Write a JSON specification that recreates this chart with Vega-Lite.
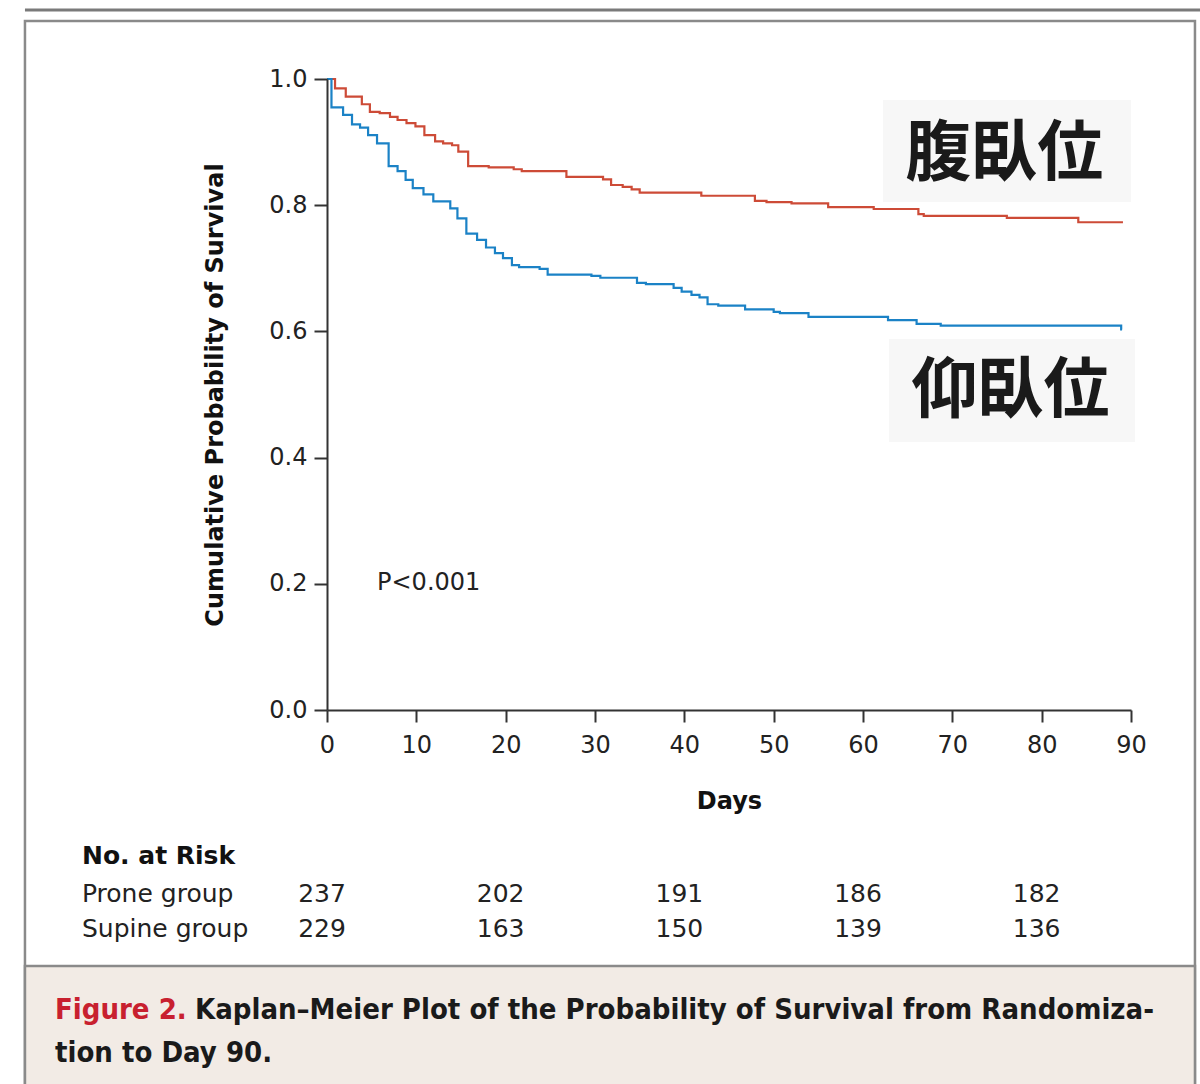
{
  "$schema": "https://vega.github.io/schema/vega-lite/v6.json",
  "width": 804,
  "height": 631,
  "autosize": {"type": "none"},
  "padding": {"left": 327, "top": 79, "right": 69, "bottom": 374},
  "background": "white",
  "config": {
    "view": {"stroke": null},
    "font": "DejaVu Sans",
    "axis": {"zindex": 1, "labelFlush": false, "labelOverlap": false, "domainColor": "#333", "domainWidth": 2, "tickColor": "#333", "tickWidth": 2, "labelFont": "DejaVu Sans", "labelFontSize": 24, "labelColor": "#222", "titleFont": "DejaVu Sans", "titleFontSize": 24, "titleFontWeight": "bold", "titleColor": "#111", "grid": false},
    "axisX": {"tickSize": 12, "labelPadding": 11, "titlePadding": 32},
    "axisY": {"tickSize": 13, "labelPadding": 7, "titlePadding": 41}
  },
  "datasets": {
    "km": [
      {"group": "Prone group", "day": 0, "surv": 1.0},
      {"group": "Prone group", "day": 0.9, "surv": 0.985},
      {"group": "Prone group", "day": 2.1, "surv": 0.972},
      {"group": "Prone group", "day": 3.9, "surv": 0.96},
      {"group": "Prone group", "day": 4.8, "surv": 0.948},
      {"group": "Prone group", "day": 5.9, "surv": 0.946},
      {"group": "Prone group", "day": 7.05, "surv": 0.94},
      {"group": "Prone group", "day": 7.9, "surv": 0.935},
      {"group": "Prone group", "day": 8.9, "surv": 0.93},
      {"group": "Prone group", "day": 9.9, "surv": 0.925},
      {"group": "Prone group", "day": 10.9, "surv": 0.911},
      {"group": "Prone group", "day": 12.1, "surv": 0.901},
      {"group": "Prone group", "day": 13.0, "surv": 0.898},
      {"group": "Prone group", "day": 14.0, "surv": 0.895},
      {"group": "Prone group", "day": 14.7, "surv": 0.885},
      {"group": "Prone group", "day": 15.8, "surv": 0.862},
      {"group": "Prone group", "day": 18.1, "surv": 0.86},
      {"group": "Prone group", "day": 20.9, "surv": 0.857},
      {"group": "Prone group", "day": 21.8, "surv": 0.854},
      {"group": "Prone group", "day": 26.8, "surv": 0.845},
      {"group": "Prone group", "day": 30.9, "surv": 0.841},
      {"group": "Prone group", "day": 31.8, "surv": 0.832},
      {"group": "Prone group", "day": 33.1, "surv": 0.829},
      {"group": "Prone group", "day": 34.1, "surv": 0.825},
      {"group": "Prone group", "day": 35.0, "surv": 0.82},
      {"group": "Prone group", "day": 41.9, "surv": 0.815},
      {"group": "Prone group", "day": 47.9, "surv": 0.807},
      {"group": "Prone group", "day": 49.2, "surv": 0.805},
      {"group": "Prone group", "day": 52.0, "surv": 0.803},
      {"group": "Prone group", "day": 56.1, "surv": 0.797},
      {"group": "Prone group", "day": 61.2, "surv": 0.794},
      {"group": "Prone group", "day": 66.2, "surv": 0.786},
      {"group": "Prone group", "day": 66.8, "surv": 0.783},
      {"group": "Prone group", "day": 76.1, "surv": 0.78},
      {"group": "Prone group", "day": 84.1, "surv": 0.773},
      {"group": "Prone group", "day": 89.1, "surv": 0.773},
      {"group": "Supine group", "day": 0, "surv": 1.0},
      {"group": "Supine group", "day": 0.5, "surv": 0.955},
      {"group": "Supine group", "day": 1.8, "surv": 0.943},
      {"group": "Supine group", "day": 2.8, "surv": 0.928},
      {"group": "Supine group", "day": 3.7, "surv": 0.923},
      {"group": "Supine group", "day": 4.6, "surv": 0.911},
      {"group": "Supine group", "day": 5.6, "surv": 0.898},
      {"group": "Supine group", "day": 6.9, "surv": 0.862},
      {"group": "Supine group", "day": 7.9, "surv": 0.854},
      {"group": "Supine group", "day": 8.8, "surv": 0.84},
      {"group": "Supine group", "day": 9.6, "surv": 0.827},
      {"group": "Supine group", "day": 10.8, "surv": 0.817},
      {"group": "Supine group", "day": 11.9, "surv": 0.806},
      {"group": "Supine group", "day": 13.8, "surv": 0.795},
      {"group": "Supine group", "day": 14.6, "surv": 0.779},
      {"group": "Supine group", "day": 15.6, "surv": 0.755},
      {"group": "Supine group", "day": 16.8, "surv": 0.745},
      {"group": "Supine group", "day": 17.8, "surv": 0.733},
      {"group": "Supine group", "day": 18.8, "surv": 0.724},
      {"group": "Supine group", "day": 19.7, "surv": 0.716},
      {"group": "Supine group", "day": 20.7, "surv": 0.705},
      {"group": "Supine group", "day": 21.5, "surv": 0.702},
      {"group": "Supine group", "day": 23.8, "surv": 0.699},
      {"group": "Supine group", "day": 24.7, "surv": 0.69},
      {"group": "Supine group", "day": 29.6, "surv": 0.688},
      {"group": "Supine group", "day": 30.6, "surv": 0.685},
      {"group": "Supine group", "day": 34.7, "surv": 0.677},
      {"group": "Supine group", "day": 35.7, "surv": 0.675},
      {"group": "Supine group", "day": 38.8, "surv": 0.669},
      {"group": "Supine group", "day": 39.7, "surv": 0.663},
      {"group": "Supine group", "day": 40.8, "surv": 0.658},
      {"group": "Supine group", "day": 41.7, "surv": 0.654},
      {"group": "Supine group", "day": 42.6, "surv": 0.643},
      {"group": "Supine group", "day": 43.8, "surv": 0.641},
      {"group": "Supine group", "day": 46.8, "surv": 0.635},
      {"group": "Supine group", "day": 50.0, "surv": 0.631},
      {"group": "Supine group", "day": 50.7, "surv": 0.629},
      {"group": "Supine group", "day": 53.9, "surv": 0.623},
      {"group": "Supine group", "day": 62.8, "surv": 0.618},
      {"group": "Supine group", "day": 66.0, "surv": 0.612},
      {"group": "Supine group", "day": 68.7, "surv": 0.609},
      {"group": "Supine group", "day": 88.9, "surv": 0.603},
      {"group": "Supine group", "day": 89.0, "surv": 0.603}
    ],
    "risk": [
      {"group": "Prone group", "day": 0, "n": 237},
      {"group": "Prone group", "day": 20, "n": 202},
      {"group": "Prone group", "day": 40, "n": 191},
      {"group": "Prone group", "day": 60, "n": 186},
      {"group": "Prone group", "day": 80, "n": 182},
      {"group": "Supine group", "day": 0, "n": 229},
      {"group": "Supine group", "day": 20, "n": 163},
      {"group": "Supine group", "day": 40, "n": 150},
      {"group": "Supine group", "day": 60, "n": 139},
      {"group": "Supine group", "day": 80, "n": 136}
    ]
  },
  "layer": [
    {
      "data": {"name": "km"},
      "mark": {"type": "line", "interpolate": "step-after", "strokeWidth": 2.2},
      "encoding": {
        "x": {"field": "day", "type": "quantitative", "title": "Days", "scale": {"domain": [0, 90], "nice": false}, "axis": {"values": [0, 10, 20, 30, 40, 50, 60, 70, 80, 90], "zindex": 2, "labelFlush": false}},
        "y": {"field": "surv", "type": "quantitative", "title": "Cumulative Probability of Survival", "scale": {"domain": [0, 1], "nice": false}, "axis": {"values": [0, 0.2, 0.4, 0.6, 0.8, 1.0], "format": ".1f", "zindex": 2, "labelFlush": false}},
        "color": {"field": "group", "type": "nominal", "scale": {"domain": ["Prone group", "Supine group"], "range": ["#cd4b37", "#1b82c6"]}, "legend": null}
      }
    },
    {
      "data": {"values": [{}]},
      "mark": {"type": "rect", "fill": null, "stroke": "#8a8a8a", "strokeWidth": 2.5},
      "encoding": {
        "x": {"datum": -33.81, "type": "quantitative", "title": "Days"},
        "x2": {"datum": 97.16},
        "y": {"datum": 1.0919, "type": "quantitative", "title": "Cumulative Probability of Survival"},
        "y2": {"datum": -0.63}
      }
    },
    {
      "data": {"values": [{}]},
      "mark": {"type": "rect", "fill": "#f2ebe5", "stroke": "#8a8a8a", "strokeWidth": 2.5},
      "encoding": {
        "x": {"datum": -33.81, "type": "quantitative", "title": "Days"},
        "x2": {"datum": 97.16},
        "y": {"datum": -0.4057, "type": "quantitative", "title": "Cumulative Probability of Survival"},
        "y2": {"datum": -0.63}
      }
    },
    {
      "data": {"values": [{}]},
      "mark": {"type": "rule", "stroke": "#7a7a7a", "strokeWidth": 3},
      "encoding": {
        "x": {"datum": -33.81, "type": "quantitative", "title": "Days"},
        "x2": {"datum": 99},
        "y": {"datum": 1.1094, "type": "quantitative", "title": "Cumulative Probability of Survival"}
      }
    },
    {
      "data": {"values": [{}]},
      "mark": {"type": "rect", "fill": "#f7f7f7"},
      "encoding": {
        "x": {"datum": 62.24, "type": "quantitative", "title": "Days"},
        "x2": {"datum": 90.0},
        "y": {"datum": 0.9667, "type": "quantitative", "title": "Cumulative Probability of Survival"},
        "y2": {"datum": 0.8051}
      }
    },
    {
      "data": {"values": [{}]},
      "mark": {"type": "rect", "fill": "#f7f7f7"},
      "encoding": {
        "x": {"datum": 62.91, "type": "quantitative", "title": "Days"},
        "x2": {"datum": 90.45},
        "y": {"datum": 0.588, "type": "quantitative", "title": "Cumulative Probability of Survival"},
        "y2": {"datum": 0.4247}
      }
    },
    {
      "data": {"values": [{}]},
      "mark": {"type": "text", "text": "腹臥位", "font": "Noto Sans CJK JP", "fontSize": 66, "fontWeight": "bold", "fill": "#1a1a1a", "align": "center", "baseline": "middle"},
      "encoding": {
        "x": {"datum": 75.8, "type": "quantitative", "title": "Days"},
        "y": {"datum": 0.8796, "type": "quantitative", "title": "Cumulative Probability of Survival"}
      }
    },
    {
      "data": {"values": [{}]},
      "mark": {"type": "text", "text": "仰臥位", "font": "Noto Sans CJK JP", "fontSize": 66, "fontWeight": "bold", "fill": "#1a1a1a", "align": "center", "baseline": "middle"},
      "encoding": {
        "x": {"datum": 76.5, "type": "quantitative", "title": "Days"},
        "y": {"datum": 0.504, "type": "quantitative", "title": "Cumulative Probability of Survival"}
      }
    },
    {
      "data": {"values": [{}]},
      "mark": {"type": "text", "text": "P<0.001", "font": "DejaVu Sans", "fontSize": 24, "fill": "#222", "align": "left", "baseline": "middle"},
      "encoding": {
        "x": {"datum": 5.6, "type": "quantitative", "title": "Days"},
        "y": {"datum": 0.2013, "type": "quantitative", "title": "Cumulative Probability of Survival"}
      }
    },
    {
      "data": {"values": [{}]},
      "mark": {"type": "text", "text": "No. at Risk", "font": "DejaVu Sans", "fontSize": 25, "fontWeight": "bold", "fill": "#111", "align": "left", "baseline": "middle"},
      "encoding": {
        "x": {"datum": -27.43, "type": "quantitative", "title": "Days"},
        "y": {"datum": -0.2314, "type": "quantitative", "title": "Cumulative Probability of Survival"}
      }
    },
    {
      "data": {"values": [{}]},
      "mark": {"type": "text", "text": "Prone group", "font": "DejaVu Sans", "fontSize": 25, "fill": "#222", "align": "left", "baseline": "middle"},
      "encoding": {
        "x": {"datum": -27.43, "type": "quantitative", "title": "Days"},
        "y": {"datum": -0.2916, "type": "quantitative", "title": "Cumulative Probability of Survival"}
      }
    },
    {
      "data": {"values": [{}]},
      "mark": {"type": "text", "text": "Supine group", "font": "DejaVu Sans", "fontSize": 25, "fill": "#222", "align": "left", "baseline": "middle"},
      "encoding": {
        "x": {"datum": -27.43, "type": "quantitative", "title": "Days"},
        "y": {"datum": -0.3471, "type": "quantitative", "title": "Cumulative Probability of Survival"}
      }
    },
    {
      "data": {"name": "risk"},
      "transform": [{"filter": "datum.group === 'Prone group'"}],
      "mark": {"type": "text", "font": "DejaVu Sans", "fontSize": 25, "fill": "#222", "align": "center", "baseline": "middle", "dx": -5},
      "encoding": {
        "x": {"field": "day", "type": "quantitative", "title": "Days"},
        "y": {"datum": -0.2916, "type": "quantitative", "title": "Cumulative Probability of Survival"},
        "text": {"field": "n", "type": "nominal"}
      }
    },
    {
      "data": {"name": "risk"},
      "transform": [{"filter": "datum.group === 'Supine group'"}],
      "mark": {"type": "text", "font": "DejaVu Sans", "fontSize": 25, "fill": "#222", "align": "center", "baseline": "middle", "dx": -5},
      "encoding": {
        "x": {"field": "day", "type": "quantitative", "title": "Days"},
        "y": {"datum": -0.3471, "type": "quantitative", "title": "Cumulative Probability of Survival"},
        "text": {"field": "n", "type": "nominal"}
      }
    },
    {
      "data": {"values": [{}]},
      "mark": {"type": "text", "text": "Figure 2.", "font": "Liberation Sans Narrow, DejaVu Sans Condensed, Roboto Condensed, Liberation Sans", "fontSize": 29, "fontWeight": "bold", "fill": "#c8202f", "align": "left", "baseline": "middle"},
      "encoding": {
        "x": {"datum": -30.45, "type": "quantitative", "title": "Days"},
        "y": {"datum": -0.4754, "type": "quantitative", "title": "Cumulative Probability of Survival"}
      }
    },
    {
      "data": {"values": [{}]},
      "mark": {"type": "text", "text": "Kaplan–Meier Plot of the Probability of Survival from Randomiza-", "font": "Liberation Sans Narrow, DejaVu Sans Condensed, Roboto Condensed, Liberation Sans", "fontSize": 29, "fontWeight": "bold", "fill": "#1a1a1a", "align": "left", "baseline": "middle"},
      "encoding": {
        "x": {"datum": -14.78, "type": "quantitative", "title": "Days"},
        "y": {"datum": -0.4754, "type": "quantitative", "title": "Cumulative Probability of Survival"}
      }
    },
    {
      "data": {"values": [{}]},
      "mark": {"type": "text", "text": "tion to Day 90.", "font": "Liberation Sans Narrow, DejaVu Sans Condensed, Roboto Condensed, Liberation Sans", "fontSize": 29, "fontWeight": "bold", "fill": "#1a1a1a", "align": "left", "baseline": "middle"},
      "encoding": {
        "x": {"datum": -30.45, "type": "quantitative", "title": "Days"},
        "y": {"datum": -0.5436, "type": "quantitative", "title": "Cumulative Probability of Survival"}
      }
    }
  ]
}
